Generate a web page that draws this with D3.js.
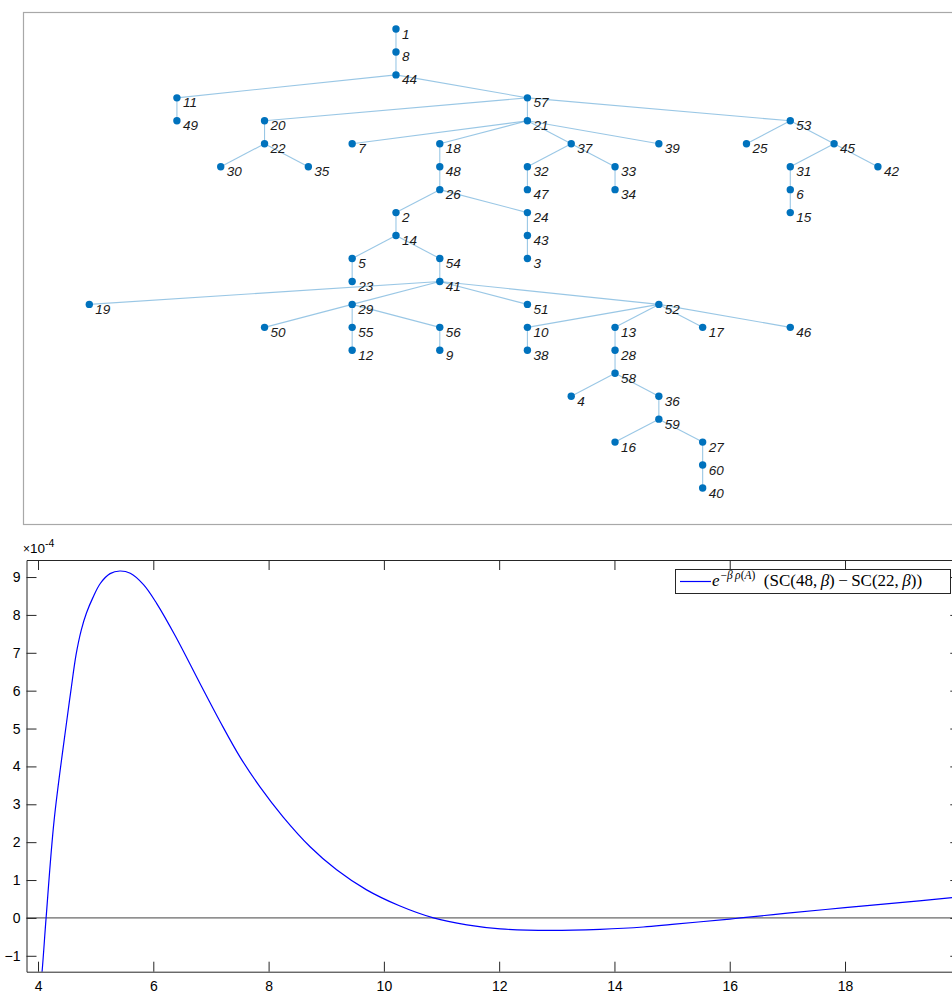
<!DOCTYPE html>
<html>
<head>
<meta charset="utf-8">
<script src="https://cdn.jsdelivr.net/npm/d3@7"></script>
<style>
  body { margin: 0; background: #fff; }
  text { font-family: "Liberation Sans", Arial, sans-serif; }
</style>
</head>
<body>
<div id="vis"></div>
<script>
// tree: node ids, parent of each node, and the column of each node in the layered layout
var nodeIds   = d3.range(1, 61);
var parentIds = [null, 26, 43, 58, 14, 31, 21, 1, 56, 52,
                 44, 55, 52, 2, 6, 59, 52, 21, 41, 57,
                 57, 20, 5, 26, 53, 48, 59, 13, 41, 22,
                 45, 37, 37, 33, 22, 58, 21, 10, 21, 60,
                 54, 45, 24, 8, 53, 52, 32, 18, 11, 29,
                 41, 41, 57, 14, 29, 29, 44, 28, 36, 27];
var nodeCols  = [7, 7, 10, 11, 6, 16, 6, 7, 8, 10,
                 2, 6, 12, 7, 16, 12, 14, 8, 0, 4,
                 10, 4, 6, 10, 15, 8, 14, 12, 6, 3,
                 16, 10, 12, 12, 5, 13, 11, 10, 13, 14,
                 8, 18, 10, 7, 17, 16, 10, 8, 2, 4,
                 10, 13, 16, 8, 6, 8, 10, 12, 13, 14];

// curve: beta and e^{-beta rho(A)} (SC(48,beta) - SC(22,beta)), in units of 1e-4
var betaVals = [4.03, 4.07, 4.14, 4.28, 4.50, 4.57, 4.66, 4.75, 4.84, 4.95,
                5.08, 5.25, 5.42, 5.60, 5.83, 6.06, 6.38, 6.81, 7.16, 7.50,
                7.85, 8.25, 8.72, 9.18, 9.70, 10.27, 10.86, 11.44, 12.02, 12.89,
                13.75, 14.50, 15.00, 16.00, 16.19, 17.00, 18.00, 19.00, 19.86, 20.00];
var diffVals = [-2.00, -1.42, 0.00, 2.59, 5.22, 6.00, 6.95, 7.60, 8.05, 8.45,
                8.83, 9.09, 9.16, 9.10, 8.80, 8.30, 7.45, 6.19, 5.18, 4.26,
                3.46, 2.67, 1.88, 1.27, 0.74, 0.32, 0.00, -0.185, -0.29, -0.33,
                -0.30, -0.24, -0.17, -0.03, 0.00, 0.125, 0.27, 0.41, 0.535, 0.555];
var xTicks = [4, 6, 8, 10, 12, 14, 16, 18];
var yTicks = [-1, 0, 1, 2, 3, 4, 5, 6, 7, 8, 9];

var width = 952;
var height = 994;

var svg = d3.select('#vis')
            .append('svg')
            .attr('width', width)
            .attr('height', height);

//////////////////////////////// top panel: tree ////////////////////////////////
svg.append('rect')
   .attr('x', 23.5)
   .attr('y', 12.5)
   .attr('width', 940)
   .attr('height', 512)
   .attr('fill', 'none')
   .attr('stroke', '#a8a8a8')
   .attr('stroke-width', 1.2);

var rows = nodeIds.map(function(d, i) {
    return { id: String(d), parent: parentIds[i] == null ? '' : String(parentIds[i]), col: nodeCols[i] };
});
var root = d3.stratify()
             .id(function(d) { return d.id; })
             .parentId(function(d) { return d.parent; })(rows);

var colScale = d3.scaleLinear().domain([0, 18]).range([89.3, 877.9]);
var depthScale = d3.scaleLinear().domain([0, 20]).range([29, 488]);

var tree = svg.append('g');

tree.selectAll('.edge')
    .data(root.links())
    .enter()
    .append('line')
    .attr('class', 'edge')
    .attr('x1', function(d) { return colScale(d.source.data.col); })
    .attr('y1', function(d) { return depthScale(d.source.depth); })
    .attr('x2', function(d) { return colScale(d.target.data.col); })
    .attr('y2', function(d) { return depthScale(d.target.depth); })
    .attr('stroke', '#0072BD')
    .attr('stroke-opacity', 0.4)
    .attr('stroke-width', 1.1);

tree.selectAll('.node')
    .data(root.descendants())
    .enter()
    .append('circle')
    .attr('class', 'node')
    .attr('cx', function(d) { return colScale(d.data.col); })
    .attr('cy', function(d) { return depthScale(d.depth); })
    .attr('r', 3.7)
    .attr('fill', '#0072BD');

tree.selectAll('.node-label')
    .data(root.descendants())
    .enter()
    .append('text')
    .attr('class', 'node-label')
    .attr('x', function(d) { return colScale(d.data.col) + 6; })
    .attr('y', function(d) { return depthScale(d.depth) + 9.5; })
    .style('font-size', '13.5px')
    .style('font-style', 'italic')
    .attr('fill', '#1a1a1a')
    .text(function(d) { return d.id; });

//////////////////////////////// bottom panel: curve ////////////////////////////////
var plotLeft = 26.5, plotTop = 560, plotRight = 960.3, plotBottom = 971.7;

var xScale = d3.scaleLinear().domain([3.8, 20]).range([plotLeft, plotRight]);
var yScale = d3.scaleLinear().domain([-1.42, 9.45]).range([plotBottom, plotTop]);

var axisColor = '#262626';

svg.append('clipPath')
   .attr('id', 'plot-clip')
   .append('rect')
   .attr('x', plotLeft)
   .attr('y', plotTop)
   .attr('width', plotRight - plotLeft)
   .attr('height', plotBottom - plotTop);

// zero line
svg.append('line')
   .attr('x1', plotLeft)
   .attr('x2', plotRight)
   .attr('y1', yScale(0))
   .attr('y2', yScale(0))
   .attr('stroke', '#444')
   .attr('stroke-width', 1);

var line = d3.line()
             .x(function(d) { return xScale(d[0]); })
             .y(function(d) { return yScale(d[1]); })
             .curve(d3.curveCatmullRom.alpha(0.5));

svg.append('path')
   .datum(d3.zip(betaVals, diffVals))
   .attr('clip-path', 'url(#plot-clip)')
   .attr('d', line)
   .attr('fill', 'none')
   .attr('stroke', '#0000FF')
   .attr('stroke-width', 1.2);

var styleAxis = function(sel) {
    sel.selectAll('path').attr('stroke', axisColor).attr('stroke-width', 1);
    sel.selectAll('line').attr('stroke', axisColor).attr('stroke-width', 1);
    sel.selectAll('text')
       .attr('fill', '#000')
       .style('font-size', '14px')
       .style('font-family', '"Liberation Sans", Arial, sans-serif');
};

svg.append('g')
   .attr('transform', 'translate(0,' + plotBottom + ')')
   .call(d3.axisBottom(xScale).tickValues(xTicks).tickSizeInner(-10).tickSizeOuter(0).tickPadding(9))
   .call(styleAxis);

svg.append('g')
   .attr('transform', 'translate(0,' + plotTop + ')')
   .call(d3.axisTop(xScale).tickValues(xTicks).tickSizeInner(-10).tickSizeOuter(0).tickFormat(''))
   .call(styleAxis);

svg.append('g')
   .attr('transform', 'translate(' + plotLeft + ',0)')
   .call(d3.axisLeft(yScale).tickValues(yTicks).tickSizeInner(-10).tickSizeOuter(0).tickPadding(6))
   .call(styleAxis);

svg.append('g')
   .attr('transform', 'translate(' + plotRight + ',0)')
   .call(d3.axisRight(yScale).tickValues(yTicks).tickSizeInner(-10).tickSizeOuter(0).tickFormat(''))
   .call(styleAxis);

// exponent label
var expo = svg.append('text')
              .attr('x', 23)
              .attr('y', 552.5)
              .attr('fill', '#000')
              .style('font-size', '13.5px');
expo.append('tspan').text('\u00d7').style('font-size', '12px');
expo.append('tspan').text('10');
expo.append('tspan').attr('dy', -6).style('font-size', '10.5px').text('-4');

// legend
var legend = svg.append('g');
legend.append('rect')
      .attr('x', 675.5)
      .attr('y', 569.5)
      .attr('width', 275)
      .attr('height', 24)
      .attr('fill', '#fff')
      .attr('stroke', axisColor)
      .attr('stroke-width', 1);
legend.append('line')
      .attr('x1', 680)
      .attr('x2', 711)
      .attr('y1', 581.5)
      .attr('y2', 581.5)
      .attr('stroke', '#0000FF')
      .attr('stroke-width', 1.2);

var serif = '"Liberation Serif", "DejaVu Serif", serif';
var lt = legend.append('text')
               .attr('x', 712)
               .attr('y', 586)
               .attr('fill', '#000')
               .style('font-family', serif)
               .style('font-size', '17px');
lt.append('tspan').style('font-style', 'italic').text('e');
var sup = [['\u2212', 'normal'], ['\u03b2', 'italic'], ['\u2009', 'normal'], ['\u03c1', 'italic'],
           ['(', 'normal'], ['A', 'italic'], [')', 'normal']];
sup.forEach(function(s, i) {
    lt.append('tspan')
      .attr('dy', i == 0 ? -7 : 0)
      .attr('dx', i == 0 ? 1 : 0)
      .style('font-size', '11.5px')
      .style('font-style', s[1])
      .text(s[0]);
});
var main = [['\u2002(SC(48,\u2009', 'normal'], ['\u03b2', 'italic'], [')\u2009\u2212\u2009SC(22,\u2009', 'normal'],
            ['\u03b2', 'italic'], ['))', 'normal']];
main.forEach(function(s, i) {
    lt.append('tspan')
      .attr('dy', i == 0 ? 7 : 0)
      .style('font-style', s[1])
      .text(s[0]);
});
</script>
</body>
</html>
